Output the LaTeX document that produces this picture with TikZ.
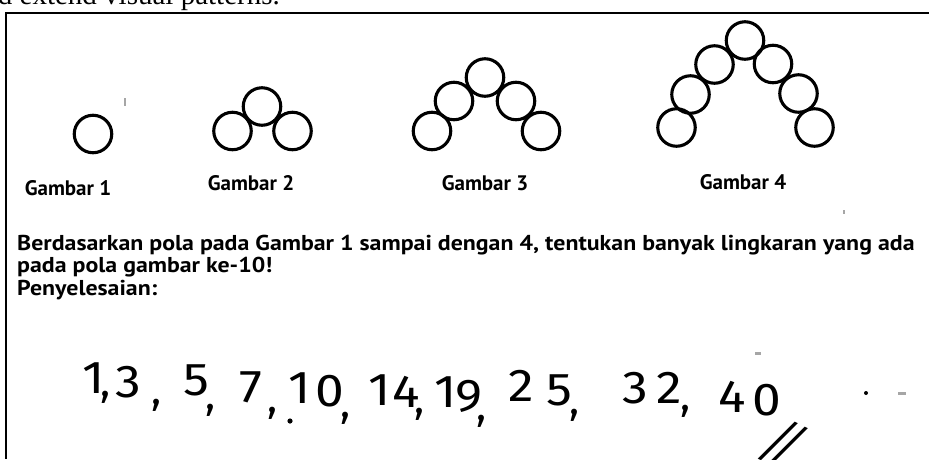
\documentclass[tikz,border=0pt]{standalone}
\usepackage{fontspec}
\setmainfont{Liberation Serif}
\newfontfamily\labfont{PT Sans}
\newfontfamily\handfont{Fira Sans}
\begin{document}
\begin{tikzpicture}[x=1pt,y=-1pt,
  ring/.style={draw, line width=3.1pt, circle, minimum size=37.5pt, inner sep=0pt},
  lab/.style={font=\labfont\bfseries\fontsize{21}{24}\selectfont, anchor=base, inner sep=0pt},
  qtext/.style={font=\labfont\bfseries\fontsize{21.5}{24}\selectfont, anchor=base west, inner sep=0pt, xscale=1.11},
  hw/.style={font=\handfont\fontsize{46}{50}\selectfont, inner sep=0pt, xscale=1.12},
  hc/.style={font=\handfont\fontsize{42}{46}\selectfont, inner sep=0pt},
  frame/.style={line width=2pt},
  speck/.style={fill=black!35, draw=none}]
\useasboundingbox (0,0) rectangle (929,459);
\clip (0,0) rectangle (929,459);
% cut-off heading
\node[anchor=base east, inner sep=0pt, font=\fontsize{29}{32}\selectfont] (head) at (280,4.5) {and extend visual patterns.};
% frame
\coordinate (tl) at (6,12.5);
\coordinate (tr) at (929,12.5);
\coordinate (bl) at (6,459);
\draw[frame] (tr) -- (tl) -- (bl);
% Gambar 1
\node[ring] (a1) at (93,134) {};
% Gambar 2
\node[ring] (b1) at (232.5,131) {};
\node[ring] (b2) at (262,106.5) {};
\node[ring] (b3) at (292.5,131) {};
% Gambar 3
\node[ring] (c1) at (432,131) {};
\node[ring] (c2) at (454,101) {};
\node[ring] (c3) at (485,77.5) {};
\node[ring] (c4) at (516,101) {};
\node[ring] (c5) at (541,131) {};
% Gambar 4
\node[ring] (d1) at (676.5,127.5) {};
\node[ring] (d2) at (690.5,94.5) {};
\node[ring] (d3) at (714.5,64.5) {};
\node[ring] (d4) at (745,40.5) {};
\node[ring] (d5) at (773,64) {};
\node[ring] (d6) at (798.5,93.5) {};
\node[ring] (d7) at (814.5,127.5) {};
% labels
\node[lab] (l1) at (68,195) {Gambar 1};
\node[lab] (l2) at (251,190) {Gambar 2};
\node[lab] (l3) at (485,190) {Gambar 3};
\node[lab] (l4) at (743,189) {Gambar 4};
% question
\node[qtext] (q1) at (17,250) {Berdasarkan pola pada Gambar 1 sampai dengan 4, tentukan banyak lingkaran yang ada};
\node[qtext] (q2) at (17,272.5) {pada pola gambar ke-10!};
\node[qtext] (q3) at (17,295) {Penyelesaian:};
% handwritten answer
\node[hw] (h1) at (94,378) {1};
\node[hc] (k1) at (106,397) {,};
\node[hw] (h3) at (128,382) {3};
\node[hc] (k3) at (157,405) {,};
\node[hw] (h5) at (196,380) {5};
\node[hc] (k5) at (211,410) {,};
\node[hw] (h7) at (251,387) {7};
\node[hc] (k7) at (273,413) {,};
\fill (290,421) circle (2.6pt);
\node[hw] (h10a) at (299.5,388) {1};
\node[hw] (h10b) at (330,391) {0};
\node[hc] (k10) at (346,418) {,};
\node[hw] (h14a) at (380,390) {1};
\node[hw] (h14b) at (406,392) {4};
\node[hc] (k14) at (420,414) {,};
\node[hw] (h19a) at (445.5,392) {1};
\node[hw] (h19b) at (469.5,396) {9};
\node[hc] (k19) at (482,421) {,};
\node[hw] (h25a) at (521,386) {2};
\node[hw] (h25b) at (559,390) {5};
\node[hc] (k25) at (575,415) {,};
\node[hw] (h32a) at (635,388) {3};
\node[hw] (h32b) at (669,388) {2};
\node[hc] (k32) at (686,411) {,};
\node[hw] (h40a) at (732,397) {4};
\node[hw] (h40b) at (767,400) {0};
\node[inner sep=0pt, font=\fontsize{74}{78}\selectfont, rotate=-26] (dbl) at (783,444) {/\kern-10pt/};
% specks
\fill (866,393) circle (2pt);
\fill[speck] (898,392) rectangle (906,395);
\fill[speck] (755,352) rectangle (761,355);
\fill[speck] (124,98) rectangle (126,106);
\fill[speck] (843,210) rectangle (845,214);
\end{tikzpicture}
\end{document}
